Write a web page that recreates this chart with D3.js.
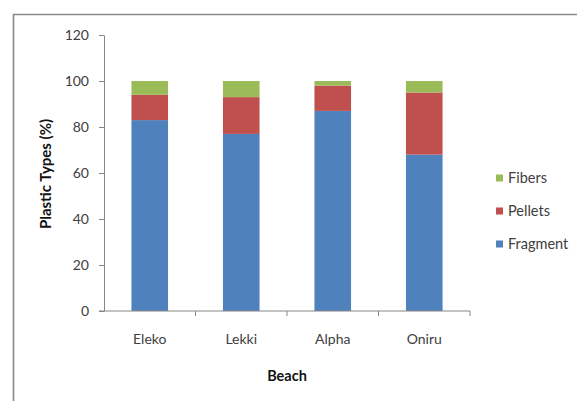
<!DOCTYPE html>
<html>
<head>
<meta charset="utf-8">
<script src="https://cdn.jsdelivr.net/npm/d3@7"></script>
<style>
  html, body { margin: 0; padding: 0; background: #fff; }
  svg { display: block; font-family: Lato, "Open Sans", sans-serif; }
</style>
</head>
<body>
<svg id="chart" width="577" height="401"></svg>
<script>
// Share of plastic types found on each beach (%)
const beaches   = ["Eleko", "Lekki", "Alpha", "Oniru"];
const fragment  = [83, 77, 87, 68];
const pellets   = [11, 16, 11, 27];
const fibers    = [6, 7, 2, 5];
const seriesNames  = ["Fragment", "Pellets", "Fibers"];
const seriesColors = ["#4F81BD", "#C0504D", "#9BBB59"];
const yTicks = [0, 20, 40, 60, 80, 100, 120];

const rows = beaches.map((b, i) => ({
  beach: b, Fragment: fragment[i], Pellets: pellets[i], Fibers: fibers[i]
}));

const svg = d3.select("#chart");

// outer chart frame (top and left edges visible)
svg.append("path")
  .attr("d", "M13.5,401 L13.5,14.5 L577,14.5")
  .attr("fill", "none").attr("stroke", "#8a8a8a").attr("stroke-width", 1.6);

const plot = { left: 104, right: 470, top: 35, bottom: 311 };

const x = d3.scaleBand().domain(beaches)
  .range([plot.left, plot.right]).paddingInner(0.6).paddingOuter(0.3);
const y = d3.scaleLinear().domain([0, 120]).range([plot.bottom, plot.top]);

const stack = d3.stack().keys(seriesNames)(rows);

// stacked bars
svg.append("g").selectAll("g").data(stack).join("g")
  .attr("fill", (d, i) => seriesColors[i])
  .selectAll("rect").data(d => d).join("rect")
  .attr("x", d => x(d.data.beach))
  .attr("width", x.bandwidth())
  .attr("y", d => y(d[1]))
  .attr("height", d => y(d[0]) - y(d[1]));

// y axis
const yAxis = svg.append("g")
  .attr("transform", `translate(${plot.left},0)`)
  .call(d3.axisLeft(y).tickValues(yTicks).tickSize(5).tickPadding(10).tickSizeOuter(0));
yAxis.select(".domain").attr("stroke", "#868686");
yAxis.selectAll(".tick line").attr("stroke", "#868686");
yAxis.selectAll(".tick text").attr("fill", "#404040")
  .style("font-size", "14px").style("font-family", "Lato, sans-serif");

// x axis with ticks at category boundaries
const bounds = d3.range(beaches.length + 1).map(i => plot.left + i * x.step());
const xAxis = svg.append("g").attr("transform", `translate(0,${plot.bottom})`);
xAxis.append("line").attr("x1", plot.left - 5).attr("x2", plot.right)
  .attr("stroke", "#868686");
xAxis.selectAll("line.bt").data(bounds.slice(1)).join("line")
  .attr("class", "bt")
  .attr("x1", d => d).attr("x2", d => d).attr("y1", 0).attr("y2", 5)
  .attr("stroke", "#868686");
xAxis.selectAll("text").data(beaches).join("text")
  .attr("x", d => x(d) + x.bandwidth() / 2)
  .attr("y", 33)
  .attr("text-anchor", "middle")
  .attr("fill", "#404040")
  .style("font-size", "14px")
  .text(d => d);

// axis titles
svg.append("text")
  .attr("x", 287).attr("y", 381)
  .attr("text-anchor", "middle")
  .style("font-size", "14.5px").style("font-weight", "bold").attr("fill", "#111")
  .text("Beach");
svg.append("text")
  .attr("transform", "translate(50.5,174) rotate(-90)")
  .attr("text-anchor", "middle")
  .style("font-size", "15px").style("font-weight", "bold").attr("fill", "#111")
  .text("Plastic Types (%)");

// legend, listed top-down in reverse stacking order
const legendItems = seriesNames.map((n, i) => ({ name: n, color: seriesColors[i] })).reverse();
const legend = svg.append("g").selectAll("g").data(legendItems).join("g")
  .attr("transform", (d, i) => `translate(496,${178 + i * 33})`);
legend.append("rect").attr("x", 0).attr("y", -3.5).attr("width", 7).attr("height", 7)
  .attr("fill", d => d.color);
legend.append("text").attr("x", 12).attr("y", 5)
  .attr("fill", "#404040").style("font-size", "14.5px")
  .text(d => d.name);
</script>
</body>
</html>
